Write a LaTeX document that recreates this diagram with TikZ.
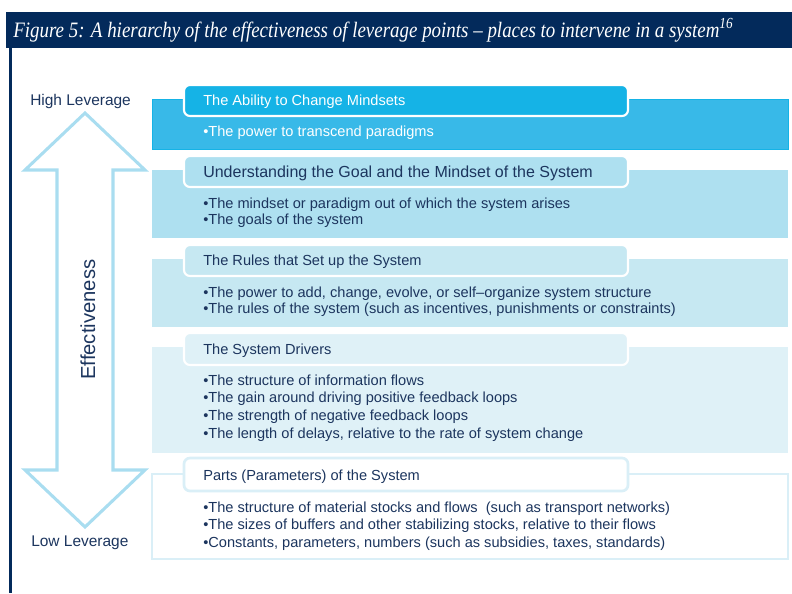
\documentclass[tikz,border=0pt]{standalone}
\usepackage{fontspec}
\setmainfont{Liberation Sans}
\newfontfamily\capfont{Liberation Serif}
\usepackage{graphicx}
\definecolor{navy}{HTML}{032A5B}
\definecolor{ink}{HTML}{1C355E}
\definecolor{bandA}{HTML}{38B9E8}
\definecolor{tabA}{HTML}{15B3E6}
\definecolor{bandB}{HTML}{AEE0F0}
\definecolor{bandC}{HTML}{C6E8F2}
\definecolor{bandD}{HTML}{DFF1F7}
\definecolor{bandE}{HTML}{DAEFF7}
\definecolor{arrowc}{HTML}{A9DDF0}
\begin{document}
\begin{tikzpicture}[x=0.75pt,y=-0.75pt,
  bandbox/.style={fill=#1, draw=none},
  tabbox/.style={fill=#1, draw=white, line width=1.6pt, rounded corners=4.5pt},
  txt/.style={anchor=base west, inner sep=0pt, text=ink, font=\fontsize{10.95}{13}\selectfont},
  wtxt/.style={txt, text=white},
  bigtxt/.style={txt, font=\fontsize{12}{14}\selectfont},
  levtxt/.style={txt, font=\fontsize{11.6}{14}\selectfont},
  efftxt/.style={txt, font=\fontsize{15.2}{18}\selectfont, rotate=90},
  captxt/.style={anchor=base west, inner sep=0pt, text=white, font=\capfont\itshape\fontsize{16.5}{19}\selectfont}
]
\useasboundingbox (0,0) rectangle (792,593);
% header
\fill[navy] (6,12) rectangle (792,48);
\fill[navy] (9.2,48) rectangle (11.8,593);
\node[captxt] (cap) at (13,37) {\resizebox{540pt}{\height}{Figure 5: A hierarchy of the effectiveness of leverage points – places to intervene in a system\textsuperscript{16}}};

% double arrow
\draw[arrowc, line width=2.3pt, line join=miter] (85,113) -- (145,170) -- (113,170) -- (113,470) -- (145,470) -- (85,527) -- (25,470) -- (57,470) -- (57,170) -- (25,170) -- cycle;
\node[levtxt] (high) at (30,105) {High Leverage};
\node[levtxt] (low) at (31,546) {Low Leverage};
\node[efftxt] (eff) at (95,380) {Effectiveness};

% band 1
\path[bandbox=bandA, draw=tabA, line width=0.6pt] (152,99) rectangle (788,149);
\path[tabbox=tabA] (184,85) rectangle (628,116);
\node[wtxt] (t1) at (203,105.5) {The Ability to Change Mindsets};
\node[wtxt] (b11) at (203,136) {•The power to transcend paradigms};

% band 2
\path[bandbox=bandB] (152,170) rectangle (788,238);
\path[tabbox=bandB] (184,156) rectangle (628,187);
\node[bigtxt] (t2) at (203,177) {Understanding the Goal and the Mindset of the System};
\node[txt] (b21) at (203,208) {•The mindset or paradigm out of which the system arises};
\node[txt] (b22) at (203,224.5) {•The goals of the system};

% band 3
\path[bandbox=bandC] (152,259) rectangle (788,327);
\path[tabbox=bandC] (184,245) rectangle (628,276);
\node[txt] (t3) at (203,265.5) {The Rules that Set up the System};
\node[txt] (b31) at (203,297) {•The power to add, change, evolve, or self–organize system structure};
\node[txt] (b32) at (203,313.5) {•The rules of the system (such as incentives, punishments or constraints)};

% band 4
\path[bandbox=bandD] (152,347) rectangle (788,453);
\path[tabbox=bandD] (184,333) rectangle (628,365);
\node[txt] (t4) at (203,354) {The System Drivers};
\node[txt] (b41) at (203,385) {•The structure of information flows};
\node[txt] (b42) at (203,402) {•The gain around driving positive feedback loops};
\node[txt] (b43) at (203,420.5) {•The strength of negative feedback loops};
\node[txt] (b44) at (203,438.5) {•The length of delays, relative to the rate of system change};

% band 5
\path[fill=white, draw=bandE, line width=1.6pt] (152,474) rectangle (788,559);
\path[fill=white, draw=bandE, line width=2pt, rounded corners=4.5pt] (184,458) rectangle (628,491);
\node[txt] (t5) at (203,480) {Parts (Parameters) of the System};
\node[txt] (b51) at (203,512) {•The structure of material stocks and flows\ \ (such as transport networks)};
\node[txt] (b52) at (203,529) {•The sizes of buffers and other stabilizing stocks, relative to their flows};
\node[txt] (b53) at (203,547) {•Constants, parameters, numbers (such as subsidies, taxes, standards)};
\end{tikzpicture}
\end{document}
